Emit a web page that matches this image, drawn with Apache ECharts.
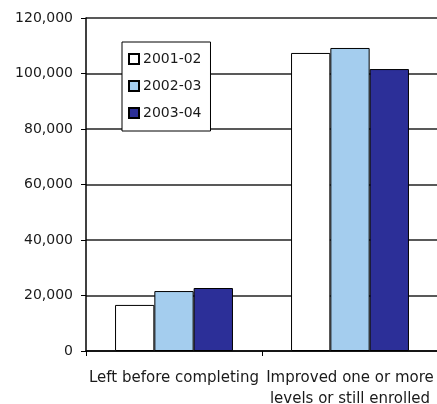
<!DOCTYPE html>
<html><head><meta charset="utf-8">
<script src="https://cdn.jsdelivr.net/npm/echarts@6/dist/echarts.min.js"></script>
<style>html,body{margin:0;padding:0;background:#fff}#c{width:437px;height:404px}</style>
</head><body><div id="c"></div>
<script>
var categories = ['Left before completing', 'Improved one or more\nlevels or still enrolled'];
var seriesNames = ['2001-02', '2002-03', '2003-04'];
var values2001 = [16600, 107400];
var values2002 = [21600, 109200];
var values2003 = [22700, 101600];
var colors = ['#ffffff', '#a4cdee', '#2c2f98'];
var dataSets = [values2001, values2002, values2003];

var chart = echarts.init(document.getElementById('c'), null, {renderer: 'canvas'});
var font = 'DejaVu Sans, sans-serif';
chart.setOption({
  animation: false,
  backgroundColor: '#fff',
  grid: {left: 86, top: 18, width: 352, height: 333, containLabel: false, outerBoundsMode: 'none'},
  legend: {
    orient: 'vertical', left: 122, top: 42,
    itemWidth: 10, itemHeight: 10, itemGap: 11,
    padding: [9, 9, 10, 6],
    borderColor: '#000', borderWidth: 1, backgroundColor: '#fff',
    icon: 'rect',
    textStyle: {fontFamily: font, fontSize: 14, color: '#1a1a1a', padding: [0, 0, 0, -1], lineHeight: 16},
    data: seriesNames
  },
  xAxis: {
    type: 'category', data: categories,
    axisLine: {lineStyle: {color: '#000', width: 1.5}},
    axisTick: {show: true, length: 5, lineStyle: {color: '#000'}},
    axisLabel: {fontFamily: font, fontSize: 15, color: '#1a1a1a', margin: 17, lineHeight: 21, interval: 0}
  },
  yAxis: {
    type: 'value', min: 0, max: 120000, interval: 20000,
    axisLine: {show: true, lineStyle: {color: '#000', width: 1.5}},
    axisTick: {show: true, length: 5, lineStyle: {color: '#000'}},
    splitLine: {lineStyle: {color: '#222', width: 1.5}},
    axisLabel: {fontFamily: font, fontSize: 14, color: '#1a1a1a', margin: 13,
      formatter: function (v) { return v.toLocaleString('en-US'); }}
  },
  series: seriesNames.map(function (n, i) {
    return {
      name: n, type: 'bar', data: dataSets[i],
      barGap: '0%', barCategoryGap: '33%',
      itemStyle: {color: colors[i], borderColor: '#000', borderWidth: 1}
    };
  })
});
</script></body></html>
